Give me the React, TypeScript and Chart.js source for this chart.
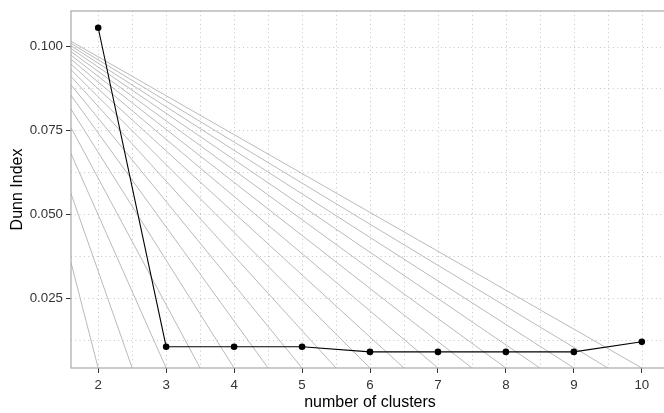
import React, { useEffect, useRef } from 'react';
import { Chart, registerables } from 'chart.js';

Chart.register(...registerables);

// ---- data ----
const clusters = [2, 3, 4, 5, 6, 7, 8, 9, 10];
const dunnIndex = [0.1056, 0.01055, 0.01055, 0.01055, 0.009, 0.009, 0.009, 0.009, 0.0120];

const xTicks = [2, 3, 4, 5, 6, 7, 8, 9, 10];
const yTicks = [0.025, 0.05, 0.075, 0.1];

const xGridLines = [2, 2.5, 3, 3.5, 4, 4.5, 5, 5.5, 6, 6.5, 7, 7.5, 8, 8.5, 9, 9.5, 10];
const yGridLines = [0.0125, 0.025, 0.0375, 0.05, 0.0625, 0.075, 0.0875, 0.1];

// grey fan of reference lines: from a common origin to points on the panel bottom
const fanEnds = [2, 2.5, 3, 3.5, 4, 4.5, 5, 5.5, 6, 6.5, 7, 7.5, 8, 8.5, 9, 9.5, 10];
const fanOriginX = 0.615;
const fanOriginY = 0.113;

const xRange = [1.6, 10.4];
const yRange = [0.0042, 0.1106];

const FONT = '"Liberation Sans", Arial, Helvetica, sans-serif';

const panelPlugin = {
  id: 'panelDecor',
  beforeDatasetsDraw(chart: any) {
    const { ctx, chartArea: a, scales } = chart;
    const x = scales.x;
    const y = scales.y;
    ctx.save();
    ctx.beginPath();
    ctx.rect(a.left, a.top, a.right - a.left, a.bottom - a.top);
    ctx.clip();
    ctx.strokeStyle = '#c4c4c4';
    ctx.lineWidth = 1;
    ctx.setLineDash([1, 3.3]);
    ctx.beginPath();
    for (const v of xGridLines) {
      const px = Math.round(x.getPixelForValue(v)) + 0.5;
      ctx.moveTo(px, a.top);
      ctx.lineTo(px, a.bottom);
    }
    for (const v of yGridLines) {
      const py = Math.round(y.getPixelForValue(v)) + 0.5;
      ctx.moveTo(a.left, py);
      ctx.lineTo(a.right, py);
    }
    ctx.stroke();
    ctx.restore();
  },
  afterDatasetsDraw(chart: any) {
    const { ctx, chartArea: a } = chart;
    ctx.save();
    ctx.strokeStyle = '#a9a9a9';
    ctx.lineWidth = 1.2;
    ctx.setLineDash([]);
    ctx.strokeRect(a.left, a.top, a.right - a.left, a.bottom - a.top);
    ctx.restore();
  },
};

export default function App() {
  const ref = useRef<HTMLCanvasElement | null>(null);

  useEffect(() => {
    document.body.style.margin = '0';
    document.body.style.overflow = 'hidden';
    const canvas = ref.current;
    if (!canvas) return;

    const fanDatasets = fanEnds.map((xe) => ({
      type: 'line' as const,
      data: [
        { x: fanOriginX, y: fanOriginY },
        { x: xe, y: yRange[0] },
      ],
      borderColor: '#bababa',
      borderWidth: 1,
      pointRadius: 0,
      fill: false,
    }));

    const chart = new Chart(canvas, {
      type: 'line',
      data: {
        datasets: [
          {
            data: clusters.map((c, i) => ({ x: c, y: dunnIndex[i] })),
            borderColor: '#000000',
            backgroundColor: '#000000',
            borderWidth: 1.1,
            pointRadius: 3.3,
            pointBackgroundColor: '#000000',
            pointBorderColor: '#000000',
            pointBorderWidth: 0,
            fill: false,
          },
          ...fanDatasets,
        ] as any,
      },
      plugins: [panelPlugin],
      options: {
        animation: false,
        responsive: false,
        maintainAspectRatio: false,
        events: [],
        layout: { padding: { top: 7, right: 3, left: 0, bottom: 0 } },
        plugins: {
          legend: { display: false },
          tooltip: { enabled: false },
        },
        scales: {
          x: {
            type: 'linear',
            min: xRange[0],
            max: xRange[1],
            afterBuildTicks: (scale: any) => {
              scale.ticks = xTicks.map((v) => ({ value: v }));
            },
            afterFit: (scale: any) => {
              scale.height = 45;
            },
            grid: {
              display: true,
              drawOnChartArea: false,
              drawTicks: true,
              tickLength: 5,
              tickColor: '#333333',
              lineWidth: 1,
            },
            border: { display: false },
            ticks: {
              autoSkip: false,
              maxRotation: 0,
              padding: 4,
              color: '#333333',
              font: { family: FONT, size: 13.3 },
              callback: (v: any) => String(v),
            },
            title: {
              display: true,
              text: 'number of clusters',
              color: '#000000',
              font: { family: FONT, size: 16 },
              padding: { top: 0, bottom: 1 },
            },
          },
          y: {
            type: 'linear',
            min: yRange[0],
            max: yRange[1],
            afterBuildTicks: (scale: any) => {
              scale.ticks = yTicks.map((v) => ({ value: v }));
            },
            afterFit: (scale: any) => {
              scale.width = 71;
            },
            grid: {
              display: true,
              drawOnChartArea: false,
              drawTicks: true,
              tickLength: 5,
              tickColor: '#333333',
              lineWidth: 1,
            },
            border: { display: false },
            ticks: {
              padding: 3,
              color: '#333333',
              font: { family: FONT, size: 13.3 },
              callback: (v: any) => Number(v).toFixed(3),
            },
            title: {
              display: true,
              text: 'Dunn Index',
              color: '#000000',
              font: { family: FONT, size: 16 },
              padding: { top: 8, bottom: 0 },
            },
          },
        },
      } as any,
    });

    return () => {
      chart.destroy();
    };
  }, []);

  return (
    <div style={{ width: 664, height: 413, overflow: 'hidden', position: 'relative' }}>
      <canvas
        ref={ref}
        width={673}
        height={413}
        style={{ display: 'block', width: 673, height: 413 }}
      />
    </div>
  );
}
